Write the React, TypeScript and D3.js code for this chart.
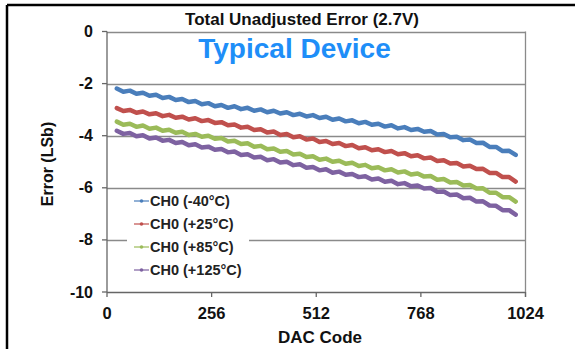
import React from "react";
import * as d3 from "d3";

const W = 575;
const H = 349;

const codes: number[] = Array.from({ length: 62 }, (_, i) => 24 + 16 * i);

const blue = [
  -2.19, -2.31, -2.27, -2.39, -2.35, -2.47, -2.43, -2.55, -2.51, -2.63,
  -2.59, -2.71, -2.67, -2.79, -2.75, -2.87, -2.82, -2.93, -2.87, -2.98,
  -2.93, -3.04, -2.99, -3.10, -3.04, -3.15, -3.10, -3.21, -3.16, -3.26,
  -3.21, -3.32, -3.27, -3.39, -3.34, -3.45, -3.41, -3.52, -3.47, -3.58,
  -3.54, -3.65, -3.60, -3.72, -3.67, -3.78, -3.74, -3.85, -3.82, -3.95,
  -3.93, -4.06, -4.04, -4.17, -4.15, -4.28, -4.27, -4.43, -4.43, -4.59,
  -4.58, -4.74,
];
const red = [
  -2.94, -3.05, -3.01, -3.12, -3.07, -3.18, -3.14, -3.25, -3.20, -3.31,
  -3.27, -3.38, -3.33, -3.44, -3.40, -3.51, -3.48, -3.60, -3.57, -3.69,
  -3.66, -3.78, -3.75, -3.88, -3.84, -3.97, -3.93, -4.06, -4.02, -4.15,
  -4.11, -4.24, -4.20, -4.32, -4.28, -4.40, -4.36, -4.48, -4.44, -4.56,
  -4.52, -4.63, -4.59, -4.71, -4.67, -4.79, -4.75, -4.87, -4.84, -4.97,
  -4.94, -5.07, -5.05, -5.18, -5.15, -5.28, -5.27, -5.43, -5.43, -5.59,
  -5.59, -5.76,
];
const green = [
  -3.46, -3.58, -3.54, -3.66, -3.61, -3.73, -3.69, -3.81, -3.77, -3.89,
  -3.85, -3.97, -3.93, -4.04, -4.00, -4.12, -4.09, -4.22, -4.19, -4.32,
  -4.29, -4.42, -4.39, -4.52, -4.49, -4.62, -4.59, -4.72, -4.69, -4.82,
  -4.79, -4.92, -4.88, -5.00, -4.96, -5.08, -5.04, -5.16, -5.12, -5.25,
  -5.21, -5.33, -5.29, -5.41, -5.37, -5.49, -5.45, -5.57, -5.55, -5.69,
  -5.66, -5.80, -5.78, -5.91, -5.89, -6.03, -6.02, -6.19, -6.19, -6.36,
  -6.36, -6.53,
];
const purple = [
  -3.81, -3.93, -3.90, -4.02, -3.98, -4.11, -4.07, -4.19, -4.16, -4.28,
  -4.24, -4.37, -4.33, -4.45, -4.42, -4.54, -4.51, -4.64, -4.61, -4.74,
  -4.71, -4.84, -4.81, -4.94, -4.90, -5.03, -5.00, -5.13, -5.10, -5.23,
  -5.20, -5.33, -5.29, -5.42, -5.38, -5.50, -5.47, -5.59, -5.56, -5.68,
  -5.64, -5.77, -5.73, -5.86, -5.82, -5.94, -5.91, -6.03, -6.01, -6.15,
  -6.14, -6.28, -6.26, -6.40, -6.38, -6.53, -6.52, -6.68, -6.69, -6.86,
  -6.86, -7.03,
];

const seriesNames = ["CH0 (-40°C)", "CH0 (+25°C)", "CH0 (+85°C)", "CH0 (+125°C)"];
const seriesValues = [blue, red, green, purple];
const seriesColors = ["#4a7ebb", "#c0504d", "#9bbb59", "#7e62a1"];

const xTicks = [0, 256, 512, 768, 1024];
const yTicks = [0, -2, -4, -6, -8, -10];

const title = "Total Unadjusted Error (2.7V)";
const subtitle = "Typical Device";
const xLabel = "DAC Code";
const yLabel = "Error (LSb)";

export default function App() {
  const x = d3.scaleLinear().domain([0, 1024]).range([107, 525.5]);
  const y = d3.scaleLinear().domain([-10, 0]).range([292, 31.5]);
  const line = d3
    .line<number>()
    .x((_, i) => x(codes[i]))
    .y((v) => y(v));

  const font = "Arial, 'Liberation Sans', sans-serif";
  const legendY = (i: number) => 201 + i * 23;

  return (
    <svg
      width={W}
      height={H}
      style={{ position: "absolute", left: 0, top: 0, background: "#fff" }}
      fontFamily={font}
    >
      <rect x={0} y={0} width={W} height={H} fill="#fff" />
      {/* frame */}
      <line x1={7} y1={5} x2={W} y2={5} stroke="#000" strokeWidth={2.5} />
      <line x1={7} y1={5} x2={7} y2={H} stroke="#000" strokeWidth={2.5} />

      {/* gridlines */}
      {yTicks.map((t) => (
        <line
          key={"g" + t}
          x1={x(0)}
          x2={x(1024)}
          y1={Math.round(y(t)) + 0.5}
          y2={Math.round(y(t)) + 0.5}
          stroke={t === -10 ? "#666" : "#8a8a8a"}
          strokeWidth={1.3}
        />
      ))}
      <line x1={x(1024)} x2={x(1024)} y1={y(0)} y2={y(-10) + 5} stroke="#8a8a8a" strokeWidth={1.3} />
      <line x1={x(0)} x2={x(0)} y1={y(0)} y2={y(-10)} stroke="#666" strokeWidth={1.3} />

      {/* ticks */}
      {yTicks.map((t) => (
        <line key={"yt" + t} x1={x(0) - 5} x2={x(0)} y1={y(t)} y2={y(t)} stroke="#666" strokeWidth={1.3} />
      ))}
      {xTicks.map((t) => (
        <line key={"xt" + t} x1={x(t)} x2={x(t)} y1={y(-10)} y2={y(-10) + 5} stroke="#666" strokeWidth={1.3} />
      ))}

      {/* legend background */}
      <rect x={127} y={190} width={122} height={92} fill="#fff" />

      {/* series */}
      {seriesValues.map((vals, si) => (
        <path
          key={"s" + si}
          d={line(vals) || ""}
          fill="none"
          stroke={seriesColors[si]}
          strokeWidth={4.5}
          strokeLinejoin="round"
          strokeLinecap="round"
        />
      ))}

      {/* legend */}
      {seriesNames.map((n, i) => (
        <g key={"l" + i}>
          <line x1={134} x2={149} y1={legendY(i)} y2={legendY(i)} stroke={seriesColors[i]} strokeWidth={1.2} />
          <circle cx={141.5} cy={legendY(i)} r={1.8} fill={seriesColors[i]} />
          <text x={150} y={legendY(i) + 5} fontSize={14.5} fontWeight="bold" fill="#222">
            {n}
          </text>
        </g>
      ))}

      {/* tick labels */}
      {yTicks.map((t) => (
        <text
          key={"yl" + t}
          x={93}
          y={y(t) + 5.5}
          textAnchor="end"
          fontSize={16}
          fontWeight="bold"
          fill="#111"
        >
          {t}
        </text>
      ))}
      {xTicks.map((t) => (
        <text
          key={"xl" + t}
          x={x(t)}
          y={319}
          textAnchor="middle"
          fontSize={16.5}
          fontWeight="bold"
          fill="#111"
        >
          {t}
        </text>
      ))}

      {/* titles */}
      <text x={302} y={24.5} textAnchor="middle" fontSize={17} fontWeight="bold" fill="#111">
        {title}
      </text>
      <text x={294.5} y={58} textAnchor="middle" fontSize={28} fontWeight="bold" fill="#1e8ef8">
        {subtitle}
      </text>
      <text x={320} y={343} textAnchor="middle" fontSize={17} fontWeight="bold" fill="#111">
        {xLabel}
      </text>
      <text
        transform={`translate(53, ${164}) rotate(-90)`}
        textAnchor="middle"
        fontSize={16}
        fontWeight="bold"
        fill="#111"
      >
        {yLabel}
      </text>
    </svg>
  );
}
